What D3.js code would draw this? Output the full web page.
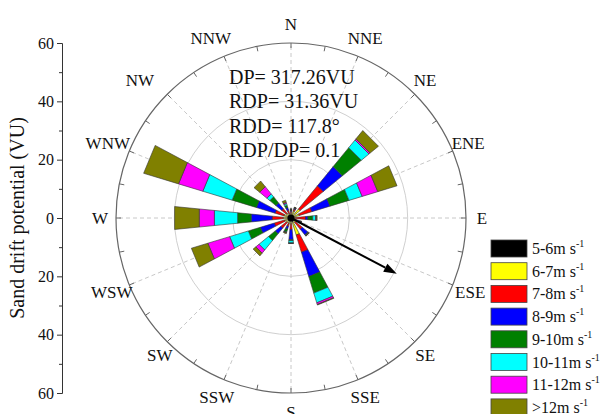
<!DOCTYPE html>
<html>
<head>
<meta charset="utf-8">
<script src="https://cdn.jsdelivr.net/npm/d3@7"></script>
<style>
  html, body { margin: 0; padding: 0; background: #fff; }
  svg { display: block; font-family: "Liberation Serif", "Times New Roman", serif; }
</style>
</head>
<body>
<svg id="chart" width="600" height="414"></svg>
<script>
// Sixteen compass sectors, clockwise from north
const directions = ["N","NNE","NE","ENE","E","ESE","SE","SSE","S","SSW","SW","WSW","W","WNW","NW","NNW"];

// Wind speed classes (inner to outer)
const speedClasses = ["5-6", "6-7", "7-8", "8-9", "9-10", "10-11", "11-12", ">12"];
const classColors  = ["#000000","#ffff00","#ff0000","#0000ff","#008000","#00ffff","#ff00ff","#808000"];

// Drift potential (VU) contributed by each speed class, per direction
const dp5_6   = [0.8, 0.8, 1.0, 1.0, 0.8, 0.6, 0.7, 1.5, 1.0, 0.8, 0.7, 0.8, 1.0, 1.0, 0.7, 0.6];
const dp6_7   = [0.8, 1.7, 3.0, 2.0, 0.7, 0.9, 1.3, 4.6, 1.0, 1.2, 1.3, 1.5, 1.7, 1.5, 1.3, 0.9];
const dp7_8   = [0.6, 0.7,10.3, 4.5, 3.5, 1.0, 3.0, 6.2, 2.0, 1.0, 2.5, 3.7, 3.8, 3.2, 2.1, 1.3];
const dp8_9   = [0.4, 0.3, 8.5, 6.5, 0.8, 0.7, 2.5, 8.7, 3.5, 1.0, 2.5, 5.0, 7.2, 6.7, 2.6, 1.0];
const dp9_10  = [0.2, 0.1, 8.4, 6.8, 1.7, 0.3, 0.3, 5.9, 0.3, 1.0, 3.0, 4.3, 4.7, 8.7, 2.7, 0.8];
const dp10_11 = [0.1, 0.1, 3.4, 4.7, 1.0, 0.1, 0.1, 3.5, 0.8, 0.2, 4.2, 6.7, 8.0,10.5, 1.3, 0.6];
const dp11_12 = [0.1, 0.1, 0.5, 5.6, 0.2, 0.1, 0.1, 0.6, 0.1, 0.1, 1.4, 7.8, 5.2, 8.7, 3.2, 0.4];
const dpOver12= [0.2, 0.1, 3.7, 6.9, 0.3, 0.1, 0.1, 0.2, 0.1, 0.3, 1.2, 5.9, 8.5,12.5, 2.5, 0.8];

// Radial axis tick values (shown as absolute values above and below the centre)
const axisTicks = [-60, -40, -20, 0, 20, 40, 60];
const axisMinorTicks = [-50, -30, -10, 10, 30, 50];
const ringValues = [20, 40];

// Summary statistics
const statLines = ["DP= 317.26VU", "RDP= 31.36VU", "RDD= 117.8\u00b0", "RDP/DP= 0.1"];
const rdd = 117.8;          // resultant drift direction, degrees
const arrowLength = 41;     // drawn length of the resultant arrow, in axis units

const svg = d3.select("#chart");
const cx = 291, cy = 218;
const rMax = 175;

const r = d3.scaleLinear().domain([0, 60]).range([0, rMax]);
const angle = d3.scalePoint().domain(directions).range([0, 360 - 22.5]);
const rad = d => d * Math.PI / 180;
const halfWidth = 11.25 / 2;

// Vertical axis on the left
const yAxisScale = d3.scaleLinear().domain([-60, 60]).range([cy + rMax, cy - rMax]);
const yAxis = svg.append("g").attr("transform", "translate(62,0)");
yAxis.call(d3.axisLeft(yAxisScale).tickValues(axisTicks).tickFormat(d => Math.abs(d)).tickSize(5).tickSizeOuter(0));
yAxis.append("g").call(d3.axisLeft(yAxisScale).tickValues(axisMinorTicks).tickFormat("").tickSize(3).tickSizeOuter(0));
yAxis.selectAll("path.domain").attr("stroke", "#333").attr("stroke-width", 1);
yAxis.selectAll(".tick line").attr("stroke", "#333");
yAxis.selectAll(".tick text").attr("font-size", 16).attr("fill", "#111")
  .attr("font-family", "Liberation Serif, Times New Roman, serif").attr("x", -8);

svg.append("text")
  .attr("transform", `translate(24,${cy}) rotate(-90)`)
  .attr("text-anchor", "middle")
  .attr("font-size", 20).attr("fill", "#111")
  .text("Sand drift potential (VU)");

const g = svg.append("g").attr("transform", `translate(${cx},${cy})`);

// Grid rings and radial dashed spokes
g.selectAll("circle.ring").data(ringValues).join("circle")
  .attr("class", "ring").attr("r", d => r(d))
  .attr("fill", "none").attr("stroke", "#d0d0d0").attr("stroke-width", 1);

g.selectAll("line.spoke").data(directions).join("line")
  .attr("class", "spoke")
  .attr("x1", 0).attr("y1", 0)
  .attr("x2", d => d3.pointRadial(rad(angle(d)), r(60))[0])
  .attr("y2", d => d3.pointRadial(rad(angle(d)), r(60))[1])
  .attr("stroke", "#c8c8c8").attr("stroke-dasharray", "4,3").attr("stroke-width", 1);

g.append("circle").attr("r", r(60)).attr("fill", "none").attr("stroke", "#666").attr("stroke-width", 1.2);

// Inward ticks on the outer ring every half sector
const ringTicks = d3.range(0, 360, 11.25);
g.selectAll("line.ringtick").data(ringTicks).join("line")
  .attr("class", "ringtick")
  .attr("x1", d => d3.pointRadial(rad(d), rMax)[0])
  .attr("y1", d => d3.pointRadial(rad(d), rMax)[1])
  .attr("x2", d => d3.pointRadial(rad(d), rMax - 5)[0])
  .attr("y2", d => d3.pointRadial(rad(d), rMax - 5)[1])
  .attr("stroke", "#666");

// Direction labels, set just outside the ring with a few hand-tuned horizontal nudges
const labelNudge = { NNW: -6, NW: -14, WNW: -4, W: 3, SW: 6, SE: -3, E: -3, ENE: -2, NE: -3 };
g.selectAll("text.dir").data(directions).join("text")
  .attr("class", "dir")
  .attr("x", d => d3.pointRadial(rad(angle(d)), rMax + 19)[0] + (labelNudge[d] || 0))
  .attr("y", d => d3.pointRadial(rad(angle(d)), rMax + 19)[1])
  .attr("text-anchor", "middle").attr("dominant-baseline", "central")
  .attr("font-size", 17).attr("fill", "#111")
  .text(d => d);

// Stacked sector bars
const table = directions.map((dir, i) => {
  const row = { dir };
  [dp5_6, dp6_7, dp7_8, dp8_9, dp9_10, dp10_11, dp11_12, dpOver12]
    .forEach((arr, k) => { row[speedClasses[k]] = arr[i]; });
  return row;
});
const stacked = d3.stack().keys(speedClasses)(table);

const wedge = (dir, v0, v1) => {
  const a = rad(angle(dir));
  const h = rad(halfWidth);
  const p = [
    d3.pointRadial(a - h, r(v0)), d3.pointRadial(a - h, r(v1)),
    d3.pointRadial(a + h, r(v1)), d3.pointRadial(a + h, r(v0))
  ];
  return d3.line()(p) + "Z";
};

g.selectAll("g.layer").data(stacked).join("g")
  .attr("class", "layer")
  .attr("fill", (d, i) => classColors[i])
  .selectAll("path").data(d => d).join("path")
  .attr("d", d => wedge(d.data.dir, d[0], d[1]))
  .attr("stroke", "#333").attr("stroke-width", 0.6).attr("stroke-linejoin", "miter");

g.append("circle").attr("r", 3.5).attr("fill", "#000");

// Resultant drift direction arrow
const tip = d3.pointRadial(rad(rdd), r(arrowLength));
const base = d3.pointRadial(rad(rdd), r(arrowLength) - 13);
const side1 = d3.pointRadial(rad(rdd + 90), 4.5);
g.append("line").attr("x1", 0).attr("y1", 0).attr("x2", base[0]).attr("y2", base[1])
  .attr("stroke", "#000").attr("stroke-width", 2);
g.append("path")
  .attr("d", d3.line()([tip, [base[0] + side1[0], base[1] + side1[1]], [base[0] - side1[0], base[1] - side1[1]]]) + "Z")
  .attr("fill", "#000");

// Summary statistics text
svg.append("g").selectAll("text").data(statLines).join("text")
  .attr("x", 229).attr("y", (d, i) => 84 + i * 24.3)
  .attr("font-size", 20).attr("fill", "#111")
  .text(d => d);

// Legend
const legend = svg.append("g").attr("transform", "translate(491,240)");
const rows = legend.selectAll("g").data(speedClasses).join("g")
  .attr("transform", (d, i) => `translate(0,${i * 22.7})`);
rows.append("rect").attr("width", 36).attr("height", 17)
  .attr("fill", (d, i) => classColors[i]).attr("stroke", "#444").attr("stroke-width", 0.8);
const lt = rows.append("text").attr("x", 41).attr("y", 14).attr("font-size", 16).attr("fill", "#111");
lt.append("tspan").text(d => d + "m s");
lt.append("tspan").attr("font-size", 10).attr("dy", -7).text("-1");
</script>
</body>
</html>
